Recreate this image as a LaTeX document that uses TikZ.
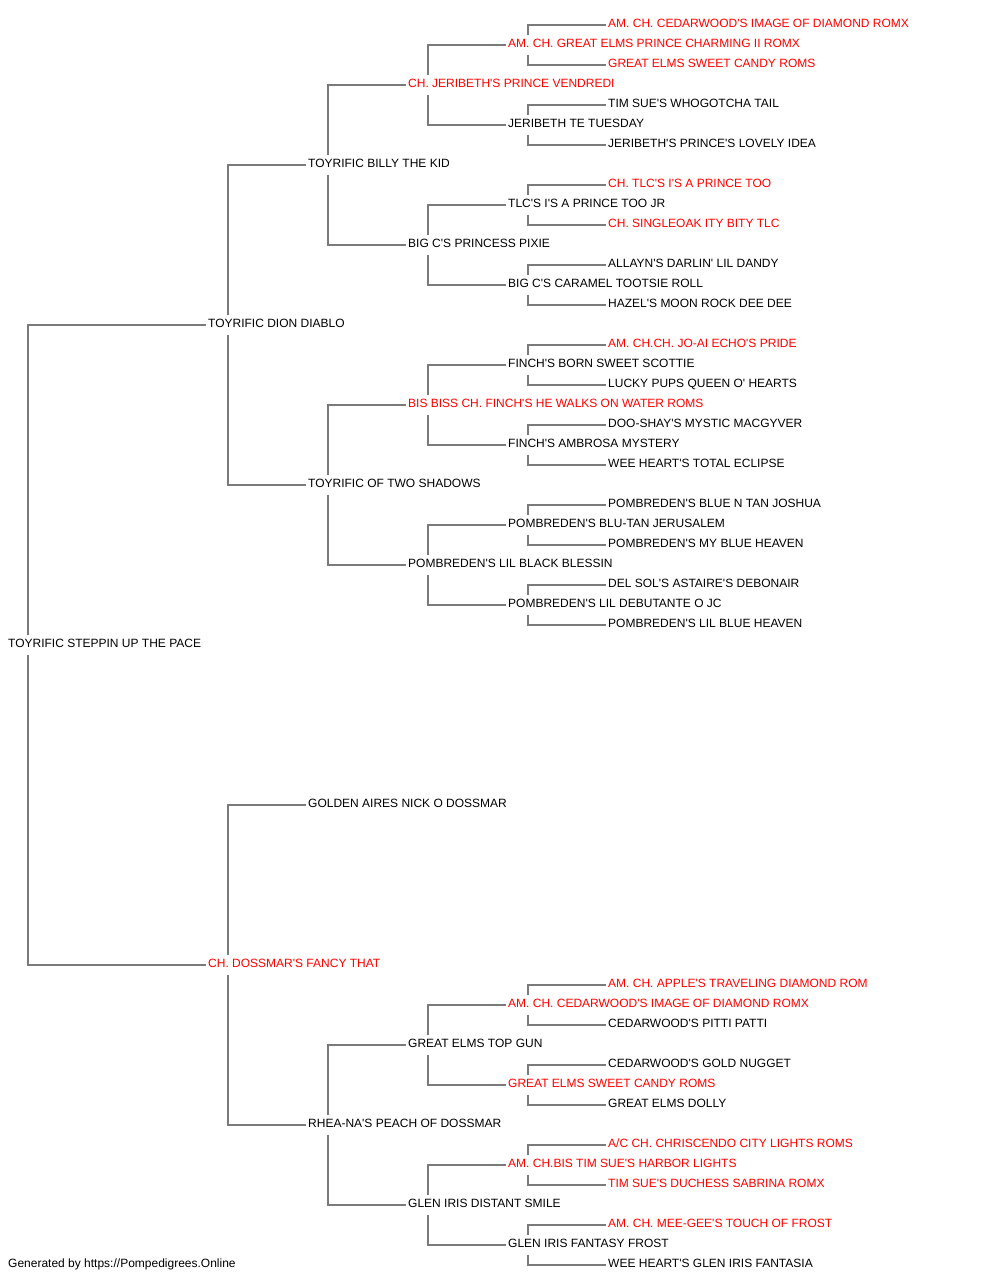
\documentclass[tikz,border=0pt]{standalone}
\usepackage{fontspec}
\setmainfont{Liberation Sans}[Ligatures=TeXOff]
\definecolor{linegray}{RGB}{122,122,122}
\definecolor{champred}{RGB}{255,0,0}
\begin{document}
\begin{tikzpicture}[x=1pt, y=-1pt,
    dog/.style={anchor=base west, inner xsep=2pt, inner ysep=4pt, text height=8.6pt, text depth=3pt, font=\fontsize{12}{14}\selectfont},
    champ/.style={dog, text=champred},
    line/.style={draw=linegray, line width=1.8pt}]
                \useasboundingbox (0, 0) rectangle (1000, 1280);

                % generation 0 and 1
                \node[dog] (steppin) at (6, 647.5) {TOYRIFIC STEPPIN UP THE PACE};
                \node[dog] (dion) at (206, 327.5) {TOYRIFIC DION DIABLO};
                \node[champ] (dossmar) at (206, 967.5) {CH. DOSSMAR'S FANCY THAT};

                % generation 2
                \node[dog] (billy) at (306, 167.5) {TOYRIFIC BILLY THE KID};
                \node[dog] (shadows) at (306, 487.5) {TOYRIFIC OF TWO SHADOWS};
                \node[dog] (golden) at (306, 807.5) {GOLDEN AIRES NICK O DOSSMAR};
                \node[dog] (rhea) at (306, 1127.5) {RHEA-NA'S PEACH OF DOSSMAR};

                % generation 3
                \node[champ] (vendredi) at (406, 87.5) {CH. JERIBETH'S PRINCE VENDREDI};
                \node[dog] (pixie) at (406, 247.5) {BIG C'S PRINCESS PIXIE};
                \node[champ] (finch) at (406, 407.5) {BIS BISS CH. FINCH'S HE WALKS ON WATER ROMS};
                \node[dog] (blessin) at (406, 567.5) {POMBREDEN'S LIL BLACK BLESSIN};
                \node[dog] (topgun) at (406, 1047.5) {GREAT ELMS TOP GUN};
                \node[dog] (smile) at (406, 1207.5) {GLEN IRIS DISTANT SMILE};

                % generation 4
                \node[champ] (charming) at (506, 47.5) {AM. CH. GREAT ELMS PRINCE CHARMING II ROMX};
                \node[dog] (tuesday) at (506, 127.5) {JERIBETH TE TUESDAY};
                \node[dog] (tlcjr) at (506, 207.5) {TLC'S I'S A PRINCE TOO JR};
                \node[dog] (caramel) at (506, 287.5) {BIG C'S CARAMEL TOOTSIE ROLL};
                \node[dog] (scottie) at (506, 367.5) {FINCH'S BORN SWEET SCOTTIE};
                \node[dog] (ambrosa) at (506, 447.5) {FINCH'S AMBROSA MYSTERY};
                \node[dog] (jerusalem) at (506, 527.5) {POMBREDEN'S BLU-TAN JERUSALEM};
                \node[dog] (debutante) at (506, 607.5) {POMBREDEN'S LIL DEBUTANTE O JC};
                \node[champ] (cedarwood) at (506, 1007.5) {AM. CH. CEDARWOOD'S IMAGE OF DIAMOND ROMX};
                \node[champ] (candy) at (506, 1087.5) {GREAT ELMS SWEET CANDY ROMS};
                \node[champ] (harbor) at (506, 1167.5) {AM. CH.BIS TIM SUE'S HARBOR LIGHTS};
                \node[dog] (frost) at (506, 1247.5) {GLEN IRIS FANTASY FROST};

                % generation 5
                \node[champ] (cedarimg) at (606, 27.5) {AM. CH. CEDARWOOD'S IMAGE OF DIAMOND ROMX};
                \node[champ] (candyroms) at (606, 67.5) {GREAT ELMS SWEET CANDY ROMS};
                \node[dog] (whogotcha) at (606, 107.5) {TIM SUE'S WHOGOTCHA TAIL};
                \node[dog] (lovely) at (606, 147.5) {JERIBETH'S PRINCE'S LOVELY IDEA};
                \node[champ] (tlcprince) at (606, 187.5) {CH. TLC'S I'S A PRINCE TOO};
                \node[champ] (singleoak) at (606, 227.5) {CH. SINGLEOAK ITY BITY TLC};
                \node[dog] (allayn) at (606, 267.5) {ALLAYN'S DARLIN' LIL DANDY};
                \node[dog] (hazel) at (606, 307.5) {HAZEL'S MOON ROCK DEE DEE};
                \node[champ] (joai) at (606, 347.5) {AM. CH.CH. JO-AI ECHO'S PRIDE};
                \node[dog] (lucky) at (606, 387.5) {LUCKY PUPS QUEEN O' HEARTS};
                \node[dog] (dooshay) at (606, 427.5) {DOO-SHAY'S MYSTIC MACGYVER};
                \node[dog] (eclipse) at (606, 467.5) {WEE HEART'S TOTAL ECLIPSE};
                \node[dog] (joshua) at (606, 507.5) {POMBREDEN'S BLUE N TAN JOSHUA};
                \node[dog] (myblue) at (606, 547.5) {POMBREDEN'S MY BLUE HEAVEN};
                \node[dog] (delsol) at (606, 587.5) {DEL SOL'S ASTAIRE'S DEBONAIR};
                \node[dog] (lilblue) at (606, 627.5) {POMBREDEN'S LIL BLUE HEAVEN};
                \node[champ] (apple) at (606, 987.5) {AM. CH. APPLE'S TRAVELING DIAMOND ROM};
                \node[dog] (pitti) at (606, 1027.5) {CEDARWOOD'S PITTI PATTI};
                \node[dog] (nugget) at (606, 1067.5) {CEDARWOOD'S GOLD NUGGET};
                \node[dog] (dolly) at (606, 1107.5) {GREAT ELMS DOLLY};
                \node[champ] (chriscendo) at (606, 1147.5) {A/C CH. CHRISCENDO CITY LIGHTS ROMS};
                \node[champ] (sabrina) at (606, 1187.5) {TIM SUE'S DUCHESS SABRINA ROMX};
                \node[champ] (meegee) at (606, 1227.5) {AM. CH. MEE-GEE'S TOUCH OF FROST};
                \node[dog] (fantasia) at (606, 1267.5) {WEE HEART'S GLEN IRIS FANTASIA};

                % sire up, dam down
                \draw[line] ([xshift=22pt]steppin.north west) |- (dion.west);
                \draw[line] ([xshift=22pt]steppin.south west) |- (dossmar.west);

                \draw[line] ([xshift=22pt]dion.north west) |- (billy.west);
                \draw[line] ([xshift=22pt]dion.south west) |- (shadows.west);
                \draw[line] ([xshift=22pt]dossmar.north west) |- (golden.west);
                \draw[line] ([xshift=22pt]dossmar.south west) |- (rhea.west);

                \draw[line] ([xshift=22pt]billy.north west) |- (vendredi.west);
                \draw[line] ([xshift=22pt]billy.south west) |- (pixie.west);
                \draw[line] ([xshift=22pt]shadows.north west) |- (finch.west);
                \draw[line] ([xshift=22pt]shadows.south west) |- (blessin.west);
                \draw[line] ([xshift=22pt]rhea.north west) |- (topgun.west);
                \draw[line] ([xshift=22pt]rhea.south west) |- (smile.west);

                \draw[line] ([xshift=22pt]vendredi.north west) |- (charming.west);
                \draw[line] ([xshift=22pt]vendredi.south west) |- (tuesday.west);
                \draw[line] ([xshift=22pt]pixie.north west) |- (tlcjr.west);
                \draw[line] ([xshift=22pt]pixie.south west) |- (caramel.west);
                \draw[line] ([xshift=22pt]finch.north west) |- (scottie.west);
                \draw[line] ([xshift=22pt]finch.south west) |- (ambrosa.west);
                \draw[line] ([xshift=22pt]blessin.north west) |- (jerusalem.west);
                \draw[line] ([xshift=22pt]blessin.south west) |- (debutante.west);
                \draw[line] ([xshift=22pt]topgun.north west) |- (cedarwood.west);
                \draw[line] ([xshift=22pt]topgun.south west) |- (candy.west);
                \draw[line] ([xshift=22pt]smile.north west) |- (harbor.west);
                \draw[line] ([xshift=22pt]smile.south west) |- (frost.west);

                \draw[line] ([xshift=22pt]charming.north west) |- (cedarimg.west);
                \draw[line] ([xshift=22pt]charming.south west) |- (candyroms.west);
                \draw[line] ([xshift=22pt]tuesday.north west) |- (whogotcha.west);
                \draw[line] ([xshift=22pt]tuesday.south west) |- (lovely.west);
                \draw[line] ([xshift=22pt]tlcjr.north west) |- (tlcprince.west);
                \draw[line] ([xshift=22pt]tlcjr.south west) |- (singleoak.west);
                \draw[line] ([xshift=22pt]caramel.north west) |- (allayn.west);
                \draw[line] ([xshift=22pt]caramel.south west) |- (hazel.west);
                \draw[line] ([xshift=22pt]scottie.north west) |- (joai.west);
                \draw[line] ([xshift=22pt]scottie.south west) |- (lucky.west);
                \draw[line] ([xshift=22pt]ambrosa.north west) |- (dooshay.west);
                \draw[line] ([xshift=22pt]ambrosa.south west) |- (eclipse.west);
                \draw[line] ([xshift=22pt]jerusalem.north west) |- (joshua.west);
                \draw[line] ([xshift=22pt]jerusalem.south west) |- (myblue.west);
                \draw[line] ([xshift=22pt]debutante.north west) |- (delsol.west);
                \draw[line] ([xshift=22pt]debutante.south west) |- (lilblue.west);
                \draw[line] ([xshift=22pt]cedarwood.north west) |- (apple.west);
                \draw[line] ([xshift=22pt]cedarwood.south west) |- (pitti.west);
                \draw[line] ([xshift=22pt]candy.north west) |- (nugget.west);
                \draw[line] ([xshift=22pt]candy.south west) |- (dolly.west);
                \draw[line] ([xshift=22pt]harbor.north west) |- (chriscendo.west);
                \draw[line] ([xshift=22pt]harbor.south west) |- (sabrina.west);
                \draw[line] ([xshift=22pt]frost.north west) |- (meegee.west);
                \draw[line] ([xshift=22pt]frost.south west) |- (fantasia.west);

                \node[dog] (credit) at (6, 1267.5) {Generated by https://Pompedigrees.Online};
\end{tikzpicture}
\end{document}
